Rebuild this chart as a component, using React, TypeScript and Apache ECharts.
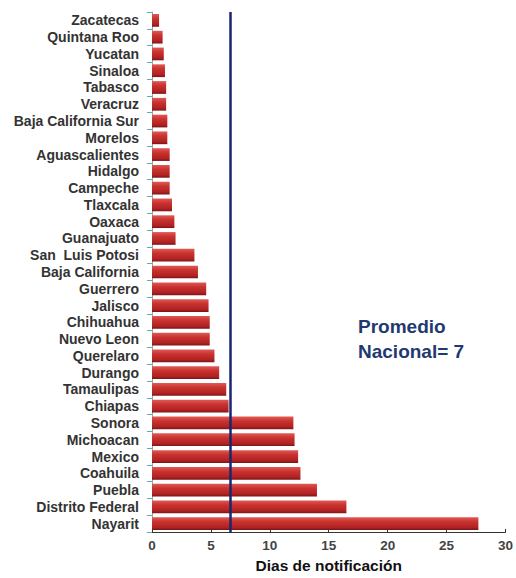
import React, { useEffect, useRef } from "react";
import * as echarts from "echarts";

const categories = [
  "Zacatecas", "Quintana Roo", "Yucatan", "Sinaloa", "Tabasco", "Veracruz",
  "Baja California Sur", "Morelos", "Aguascalientes", "Hidalgo", "Campeche",
  "Tlaxcala", "Oaxaca", "Guanajuato", "San  Luis Potosi", "Baja California",
  "Guerrero", "Jalisco", "Chihuahua", "Nuevo Leon", "Querelaro", "Durango",
  "Tamaulipas", "Chiapas", "Sonora", "Michoacan", "Mexico", "Coahuila",
  "Puebla", "Distrito Federal", "Nayarit",
];
const values = [
  0.6, 0.9, 1.0, 1.1, 1.2, 1.2, 1.3, 1.3, 1.5, 1.5, 1.5, 1.7, 1.9, 2.0,
  3.6, 3.9, 4.6, 4.8, 4.9, 4.9, 5.3, 5.7, 6.3, 6.5, 12.0, 12.1, 12.4, 12.6,
  14.0, 16.5, 27.7,
];
const promedio = 6.6;
const xTicks = { min: 0, max: 30, interval: 5 };

export default function App() {
  const ref = useRef<HTMLDivElement>(null);
  useEffect(() => {
    const chart = echarts.init(ref.current!, null, { renderer: "svg" });
    chart.setOption({
      animation: false,
      backgroundColor: "#ffffff",
      grid: { left: 152, right: 7, top: 12, bottom: 34, containLabel: false },
      xAxis: {
        type: "value",
        min: xTicks.min,
        max: xTicks.max,
        interval: xTicks.interval,
        splitLine: { show: false },
        axisLine: { show: true, lineStyle: { color: "#333", width: 1 } },
        axisTick: { show: true, inside: true, length: 3, lineStyle: { color: "#333" } },
        axisLabel: {
          color: "#444",
          fontFamily: "Liberation Sans",
          fontWeight: "bold",
          fontSize: 13.5,
          margin: 6,
          showMaxLabel: true,
        },
        name: "Dias de notificación",
        nameLocation: "middle",
        nameGap: 25,
        nameTextStyle: {
          color: "#111",
          fontFamily: "Liberation Sans",
          fontWeight: "bold",
          fontSize: 15.5,
        },
      },
      yAxis: {
        type: "category",
        inverse: true,
        data: categories,
        axisLine: { show: true, lineStyle: { color: "#8aa", width: 1 } },
        axisTick: { show: true, length: 5, lineStyle: { color: "#6aa" } },
        axisLabel: {
          interval: 0,
          color: "#333",
          fontFamily: "Liberation Sans",
          fontWeight: "bold",
          fontSize: 14,
          margin: 13,
        },
      },
      series: [
        {
          type: "bar",
          data: values,
          barCategoryGap: "24%",
          itemStyle: {
            color: new echarts.graphic.LinearGradient(0, 0, 0, 1, [
              { offset: 0, color: "#e05a55" },
              { offset: 0.35, color: "#c93330" },
              { offset: 0.8, color: "#b02222" },
              { offset: 1, color: "#7d1515" },
            ]),
          },
          markLine: {
            silent: true,
            symbol: "none",
            label: { show: false },
            lineStyle: { color: "#1a2570", width: 2.5, type: "solid" },
            data: [{ xAxis: promedio }],
          },
        },
      ],
      graphic: [
        {
          type: "text",
          left: 358,
          top: 314,
          style: {
            text: "Promedio\nNacional= 7",
            fill: "#1f3a70",
            font: "bold 19px 'Liberation Sans'",
            lineHeight: 25,
          },
        },
      ],
    });
    return () => chart.dispose();
  }, []);
  return (
    <div
      ref={ref}
      style={{ position: "absolute", left: 0, top: 0, width: 516, height: 578 }}
    />
  );
}
